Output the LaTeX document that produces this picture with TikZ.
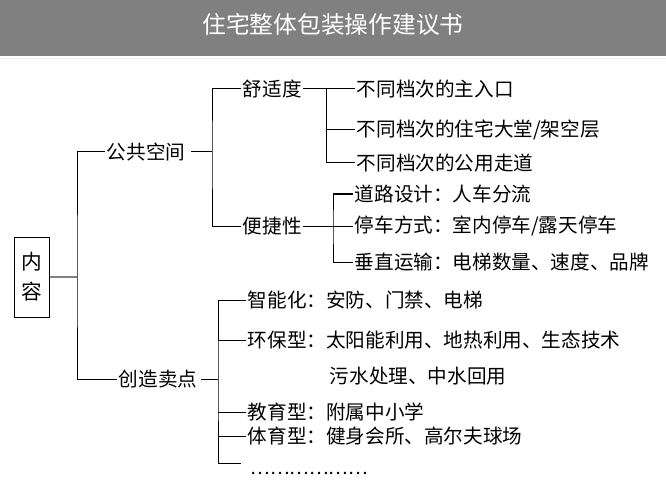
\documentclass[tikz,border=0pt]{standalone}
\usepackage{fontspec}
\setmainfont{Noto Sans CJK SC}
\usetikzlibrary{positioning}

\begin{document}
\begin{tikzpicture}
        [
            x = 0.75pt, y = -0.75pt,
            item/.style = {anchor=west, inner sep=1pt, font=\fontsize{14.7}{17}\selectfont},
            rootbox/.style = {draw, line width=0.75pt, minimum width=26.25pt, minimum height=60pt,
                align=center, inner sep=0pt, font=\fontsize{15.5}{22.5}\selectfont},
            title/.style = {text=white, inner sep=0pt, font=\fontsize{17.8}{20}\selectfont},
            rootlink/.style = {gray, line width=1.5pt},
            every path/.style = {line width=0.75pt},
        ]
        \useasboundingbox (0,0) rectangle (666,488);
        \fill[gray] (0,0) rectangle (666,56);
        \draw[gray!15] (0,59) -- (666,59);
        \node[title] (head) at (333,24) {住宅整体包装操作建议书};

        \node[rootbox] (root) at (31.5,277) {内\\容};

        \node[item] (pub) at (105,152) {公共空间};
        \node[item] (comfort) at (241,89) {舒适度};
        \node[item] (conv) at (241,226) {便捷性};
        \node[item] (c1) at (355,89) {不同档次的主入口};
        \node[item] (c2) at (355,130) {不同档次的住宅大堂/架空层};
        \node[item] (c3) at (355,163) {不同档次的公用走道};
        \node[item] (d1) at (353,194) {道路设计：人车分流};
        \node[item] (d2) at (353,226) {停车方式：室内停车/露天停车};
        \node[item] (d3) at (353,262) {垂直运输：电梯数量、速度、品牌};

        \node[item] (sell) at (117,379) {创造卖点};
        \node[item] (e1) at (246,300) {智能化：安防、门禁、电梯};
        \node[item] (e2) at (246,340) {环保型：太阳能利用、地热利用、生态技术};
        \node[item] (e2b) at (328,376) {污水处理、中水回用};
        \node[item] (e3) at (246,412) {教育型：附属中小学};
        \node[item] (e4) at (246,436) {体育型：健身会所、高尔夫球场};
        \node[item, font=\fontsize{13.8}{16}\selectfont] (more) at (249,473) {………………};

        \coordinate (fork0) at (77,277);
        \coordinate (fork1) at (212,152);
        \coordinate (fork2) at (326,89);
        \coordinate (fork3) at (333,226);
        \coordinate (fork4) at (218,379);
        \coordinate (tail) at (241,463);

        \draw[rootlink] (root.east) -- (fork0);
        \draw (pub.west) -| (fork0) |- (sell.west);

        \draw (pub.east) ++(4,0) -- (fork1);
        \draw (comfort.west) -| (fork1) |- (conv.west);

        \draw (comfort.east) -- (c1.west);
        \draw (fork2) |- (c2.west);
        \draw (fork2) |- (c3.west);

        \draw (conv.east) -- (d2.west);
        \draw (d1.west) -| (fork3) |- (d3.west);

        \draw (sell.east) ++(2,0) -- (fork4);
        \draw (e1.west) -| (fork4) |- (tail);
        \foreach \n in {e2,e3,e4}
            \draw (fork4 |- \n.west) -- (\n.west);
    \end{tikzpicture}
\end{document}
